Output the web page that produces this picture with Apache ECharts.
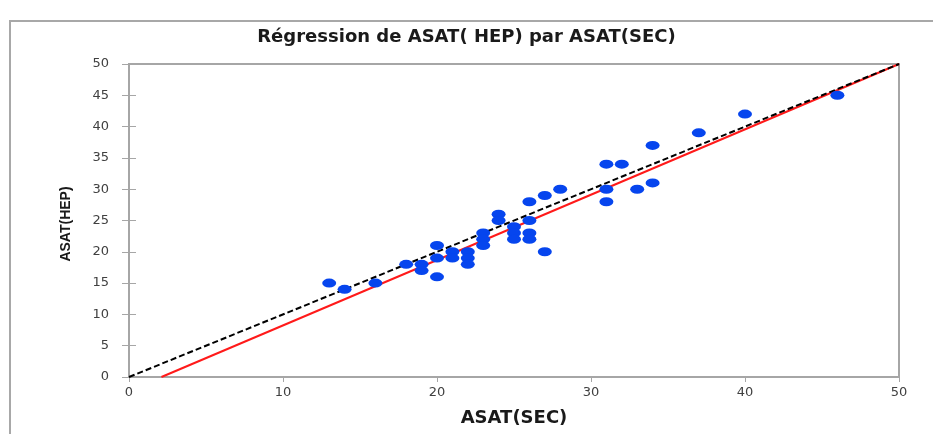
<!DOCTYPE html>
<html>
<head>
<meta charset="utf-8">
<script src="https://cdn.jsdelivr.net/npm/echarts@6/dist/echarts.min.js"></script>
<style>
  html, body { margin: 0; padding: 0; background: #ffffff; }
  #frame { position: absolute; left: 9px; top: 20px; width: 940px; height: 430px;
           border-left: 2px solid #a8a8a8; border-top: 2px solid #a8a8a8; }
  #chart { position: absolute; left: 0; top: 0; width: 933px; height: 434px; }
</style>
</head>
<body>
<div id="frame"></div>
<div id="chart"></div>
<script>
// ASAT measured on SEC (x) and HEP (y)
const asatSEC = [13, 14, 16, 18, 19, 19, 20, 20, 20, 21, 21, 22, 22, 22, 23, 23, 23,
                 24, 24, 25, 25, 25, 26, 26, 26, 26, 27, 27, 28, 31, 32, 34, 31, 31,
                 33, 34, 37, 40, 46];
const asatHEP = [15, 14, 15, 18, 18, 17, 21, 19, 16, 20, 19, 20, 19, 18, 23, 22, 21,
                 26, 25, 24, 23, 22, 28, 25, 23, 22, 29, 20, 30, 34, 34, 37, 30, 28,
                 30, 31, 39, 42, 45];

// Fitted regression line HEP = intercept + slope * SEC
const fitIntercept = -2.2;
const fitSlope = 1.044;

// Axis ranges and tick steps
const xRange = [0, 50];
const yRange = [0, 50];
const xStep = 10;
const yStep = 5;

const points = asatSEC.map((x, i) => [x, asatHEP[i]]);
const fitStartX = -fitIntercept / fitSlope;
const fitLine = [[fitStartX, 0], [xRange[1], fitIntercept + fitSlope * xRange[1]]];
const identityLine = [[xRange[0], yRange[0]], [xRange[1], yRange[1]]];

const gridColor = '#a6a6a6';
const labelStyle = { color: '#404040', fontFamily: 'DejaVu Sans', fontSize: 13 };

const chart = echarts.init(document.getElementById('chart'));
chart.setOption({
  animation: false,
  backgroundColor: 'transparent',
  title: {
    text: 'Régression de ASAT( HEP) par ASAT(SEC)',
    left: 'center',
    top: 23,
    textStyle: { fontFamily: 'DejaVu Sans', fontWeight: 'bold', fontSize: 18, color: '#1a1a1a' }
  },
  grid: { left: 129, right: 34, top: 64, bottom: 57, show: true,
          borderColor: gridColor, borderWidth: 2 },
  xAxis: {
    type: 'value', min: xRange[0], max: xRange[1], interval: xStep,
    name: 'ASAT(SEC)', nameLocation: 'middle', nameGap: 32,
    nameTextStyle: { fontFamily: 'DejaVu Sans', fontWeight: 'bold', fontSize: 18, color: '#1a1a1a' },
    axisLine: { lineStyle: { color: gridColor, width: 2 } },
    axisTick: { show: true, length: 5, lineStyle: { color: gridColor } },
    axisLabel: Object.assign({ margin: 9 }, labelStyle),
    splitLine: { show: false }
  },
  yAxis: [{
    type: 'value', min: yRange[0], max: yRange[1], interval: yStep,
    name: 'ASAT(HEP)', nameLocation: 'middle', nameGap: 56, nameRotate: 90,
    nameTextStyle: { fontFamily: 'Liberation Sans', fontWeight: 'bold', fontSize: 14, color: '#1a1a1a',
                     padding: [0, 7, 0, 0] },
    axisLine: { show: true, lineStyle: { color: gridColor, width: 2 } },
    axisTick: { show: true, length: 7, lineStyle: { color: gridColor } },
    axisLabel: Object.assign({ margin: 20 }, labelStyle),
    splitLine: { show: false }
  }, {
    type: 'value', min: yRange[0], max: yRange[1], interval: yStep, position: 'left',
    axisLine: { show: false },
    axisTick: { show: true, inside: true, length: 7, lineStyle: { color: gridColor } },
    axisLabel: { show: false },
    splitLine: { show: false }
  }],
  series: [{
    type: 'line', data: identityLine, symbol: 'none', silent: true, z: 3,
    lineStyle: { color: '#000000', width: 2, type: [6, 3] }
  }, {
    type: 'line', data: fitLine, symbol: 'none', silent: true, z: 2,
    lineStyle: { color: '#ff1a1a', width: 2 }
  }, {
    type: 'scatter', data: points, symbol: 'circle', symbolSize: [14, 9], z: 4,
    itemStyle: { color: '#0645ee', opacity: 1 }
  }]
});
</script>
</body>
</html>
